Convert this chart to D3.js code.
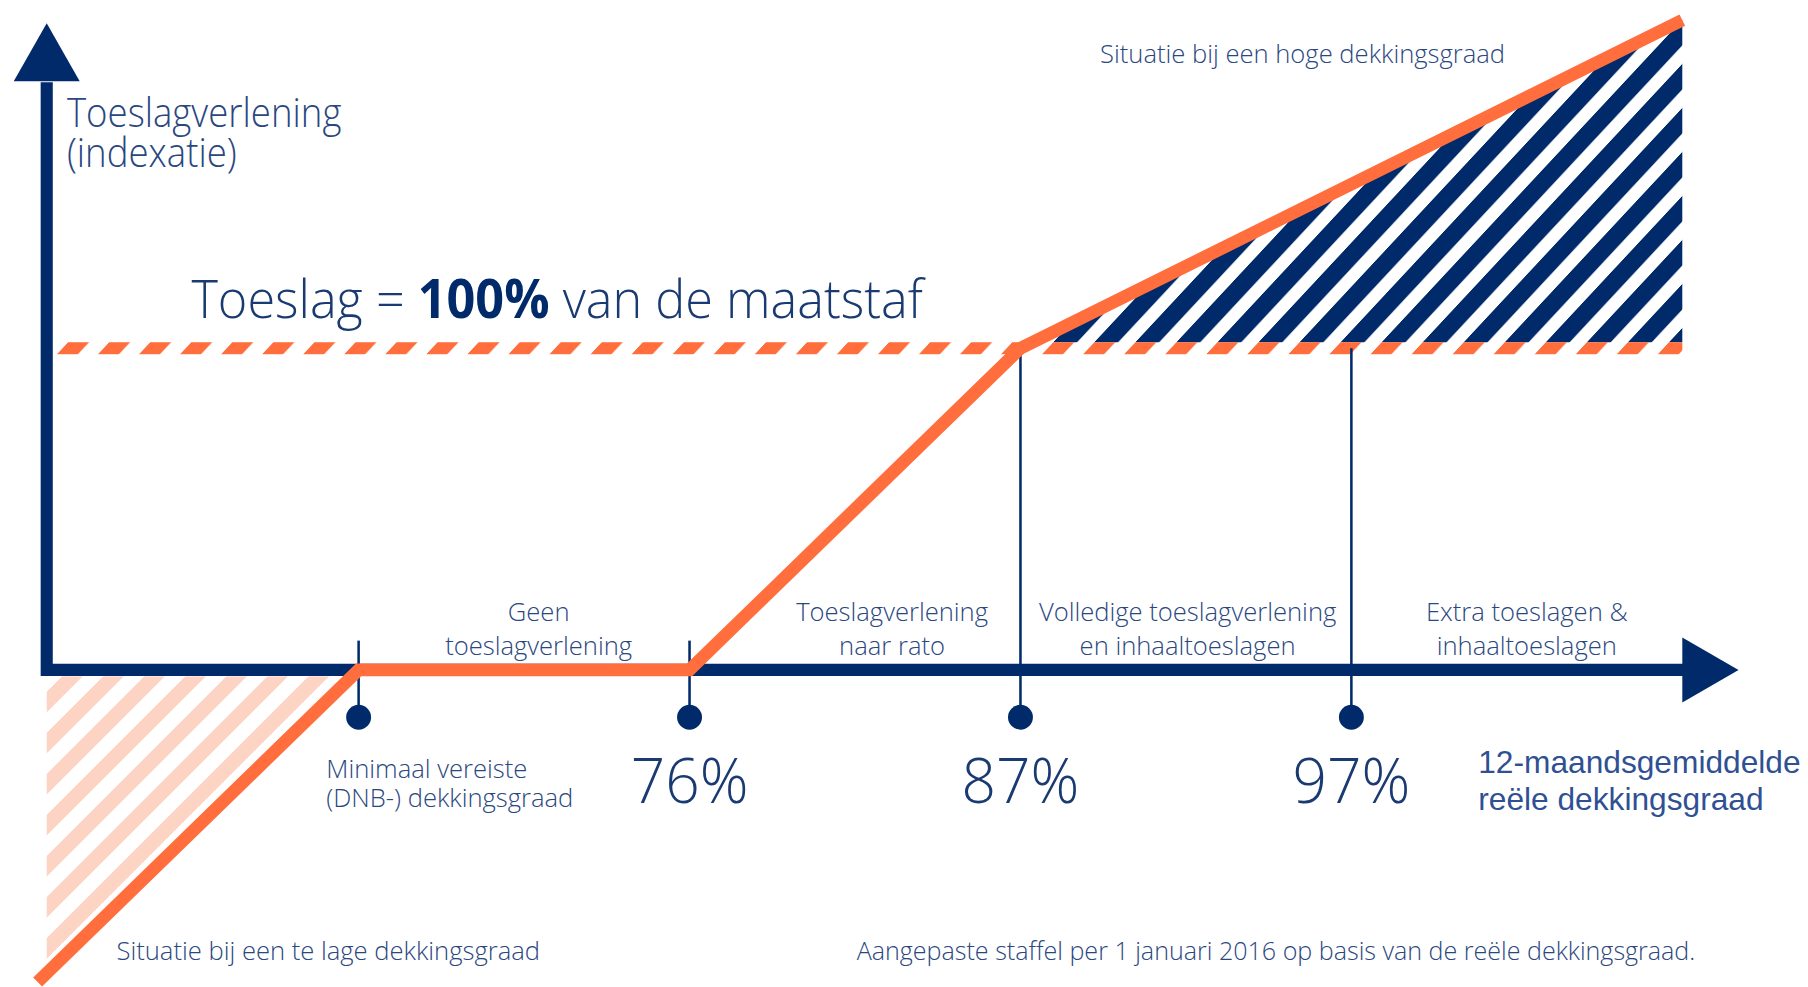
<!DOCTYPE html>
<html>
<head>
<meta charset="utf-8">
<script src="https://cdn.jsdelivr.net/npm/d3@7"></script>
<style>
  html, body { margin: 0; padding: 0; background: #fff; overflow: hidden; }
</style>
</head>
<body>
<svg id="chart"></svg>
<script>
// --- data ---------------------------------------------------------------
// breakpoints on the horizontal axis (index position) and their labels
const breakpoints = [0, 1, 2, 3];
const breakLabels = ["", "76%", "87%", "97%"];

// toeslag line: x in breakpoint index, y in share of the maatstaf (1 = 100%)
const lineX = [-0.97, 0, 1, 2, 4];
const lineY = [-0.97, 0, 0, 1, 2.02];

// level of "Toeslag = 100% van de maatstaf"
const fullLevel = 1;

// zone captions above the axis
const zoneX = [0.544, 1.612, 2.505, 3.53];
const zoneLines = [
  ["Geen", "toeslagverlening"],
  ["Toeslagverlening", "naar rato"],
  ["Volledige toeslagverlening", "en inhaaltoeslagen"],
  ["Extra toeslagen &", "inhaaltoeslagen"]
];
const minLabel = ["Minimaal vereiste", "(DNB-) dekkingsgraad"];
const yTitle = ["Toeslagverlening", "(indexatie)"];
const xTitle = ["12-maandsgemiddelde", "reële dekkingsgraad"];
const fullTitle = ["Toeslag = ", "100%", " van de maatstaf"];
const highNote = "Situatie bij een hoge dekkingsgraad";
const lowNote = "Situatie bij een te lage dekkingsgraad";
const footNote = "Aangepaste staffel per 1 januari 2016 op basis van de reële dekkingsgraad.";

// --- layout -------------------------------------------------------------
const W = 1568, H = 856;
const NAVY = "#002a6a", ORANGE = "#ff6e3c", PEACH = "#fdd3c3";
const TEXT = "#2a4780", TEXT_DARK = "#1a3a72", BLUE = "#2f5093";
const FONT = "'Segoe UI', 'Open Sans', 'Noto Sans', sans-serif";

const axisStart = -0.9425;   // index where the y-axis sits
const xArrowTip = 4.17;
const yArrowBase = 1.83, yArrowTip = 2.01;

const svg = d3.select("#chart")
  .attr("width", 1808).attr("height", 987)
  .attr("viewBox", `0 0 ${W} ${H}`);

const x = d3.scaleLinear().domain([0, 3]).range([311, 1172]);
const y = d3.scaleLinear().domain([0, 1]).range([581, 302]);

const defs = svg.append("defs");

// skewed stripe pattern, phase chosen so a stripe edge passes (x0, y0)
function stripes(id, color, period, frac, angle, x0, y0) {
  const t = Math.tan(-angle * Math.PI / 180);
  const px = ((x0 + t * y0) % period + period) % period;
  const p = defs.append("pattern")
    .attr("id", id)
    .attr("patternUnits", "userSpaceOnUse")
    .attr("x", px).attr("y", 0)
    .attr("width", period).attr("height", 200)
    .attr("patternTransform", `skewX(${angle})`);
  p.append("rect")
    .attr("width", period * frac).attr("height", 200)
    .attr("fill", color);
}

const dashH = 10.4;
const dashTop = y(fullLevel) - dashH / 2;
stripes("dash", ORANGE, 35.6, 0.51, -43, 49.4, dashTop + dashH);
stripes("navy", NAVY, 35.6, 0.58, -43, 49.4, dashTop + dashH);
stripes("peach", PEACH, 35.6, 0.5, -45, 40.5, 600);

const pts = lineX.map((d, i) => [d, lineY[i]]);

// peach hatch: below the axis, left of the line
defs.append("clipPath").attr("id", "lowClip")
  .append("rect")
  .attr("x", x(axisStart)).attr("y", y(0) + 5.5)
  .attr("width", x(0) - x(axisStart)).attr("height", H);

svg.append("path")
  .datum(pts.filter(d => d[0] <= 0))
  .attr("clip-path", "url(#lowClip)")
  .attr("fill", "url(#peach)")
  .attr("d", d3.area()
    .x(d => x(d[0]))
    .y0(y(0) + 5.5)
    .y1(d => y(d[1])));

// navy hatch: between the 100% line and the toeslag line
svg.append("path")
  .datum(pts.filter(d => d[0] >= 2))
  .attr("fill", "url(#navy)")
  .attr("d", d3.area()
    .x(d => x(d[0]))
    .y0(dashTop)
    .y1(d => y(d[1])));

// dashed 100% line
svg.append("rect")
  .attr("x", 49).attr("y", dashTop)
  .attr("width", x(4) - 49).attr("height", dashH)
  .attr("fill", "url(#dash)");

// axes
const ax0 = x(axisStart);
svg.append("path")
  .attr("d", `M${ax0},${y(yArrowBase) + 1}V${y(0)}H${x(4) + 1}`)
  .attr("fill", "none")
  .attr("stroke", NAVY)
  .attr("stroke-width", 10.5)
  .attr("stroke-linejoin", "miter");

svg.append("path")
  .attr("fill", NAVY)
  .attr("d", `M${x(4)},${y(0) - 28.2}L${x(xArrowTip)},${y(0)}L${x(4)},${y(0) + 28.2}Z`);
svg.append("path")
  .attr("fill", NAVY)
  .attr("d", `M${ax0 - 28.6},${y(yArrowBase)}L${ax0},${y(yArrowTip)}L${ax0 + 28.6},${y(yArrowBase)}Z`);

// ticks
const dotY = 622;
svg.selectAll("line.tick")
  .data(breakpoints)
  .join("line")
  .attr("class", "tick")
  .attr("x1", d => x(d)).attr("x2", d => x(d))
  .attr("y1", d => d < 2 ? 555.6 : y(fullLevel))
  .attr("y2", dotY)
  .attr("stroke", NAVY)
  .attr("stroke-width", 2.2);

// toeslag line
svg.append("path")
  .datum(pts)
  .attr("fill", "none")
  .attr("stroke", ORANGE)
  .attr("stroke-width", 11)
  .attr("stroke-linejoin", "miter")
  .attr("d", d3.line().x(d => x(d[0])).y(d => y(d[1])));

svg.selectAll("circle.dot")
  .data(breakpoints)
  .join("circle")
  .attr("class", "dot")
  .attr("cx", d => x(d)).attr("cy", dotY)
  .attr("r", 10.8)
  .attr("fill", NAVY);

// --- text ---------------------------------------------------------------
function addText(lines, tx, ty, o) {
  const t = svg.append("text")
    .attr("transform", `translate(${tx},${ty}) scale(${o.sx || 1},1)`)
    .attr("text-anchor", o.anchor || "start")
    .attr("font-family", o.family || FONT)
    .attr("font-size", o.size)
    .attr("font-weight", o.weight || 400)
    .attr("fill", o.color || TEXT);
  lines.forEach((s, i) => t.append("tspan").attr("x", 0).attr("y", i * (o.lh || 0)).text(s));
  return t;
}

const small = { size: 23, sx: 0.965, lh: 29, weight: 300 };

addText(yTitle, 58, 110, { size: 34.5, sx: 0.92, lh: 35, weight: 300, color: TEXT });

const ft = svg.append("text")
  .attr("transform", `translate(166,276) scale(0.94,1)`)
  .attr("font-family", FONT)
  .attr("font-size", 46.5)
  .attr("fill", TEXT_DARK);
ft.append("tspan").attr("font-weight", 300).text(fullTitle[0]);
ft.append("tspan").attr("font-weight", 700).attr("fill", NAVY).text(fullTitle[1]);
ft.append("tspan").attr("font-weight", 300).text(fullTitle[2]);

addText([highNote], 954, 54.4, small);
addText([lowNote], 101, 832.6, small);
addText([footNote], 743, 832.6, { ...small, sx: 0.945 });

zoneLines.forEach((lines, i) => {
  addText(lines, x(zoneX[i]), 539, { ...small, anchor: "middle" });
});

addText(minLabel, 283, 675, { ...small, lh: 25 });

breakpoints.forEach((d, i) => {
  if (!breakLabels[i]) return;
  addText([breakLabels[i]], x(d), 696, { size: 54.6, sx: 0.96, anchor: "middle", weight: 300, color: TEXT_DARK });
});

addText(xTitle, 1282, 670, { size: 27.5, lh: 32.5, family: "Arial, 'Liberation Sans', sans-serif", color: BLUE });
</script>
</body>
</html>
